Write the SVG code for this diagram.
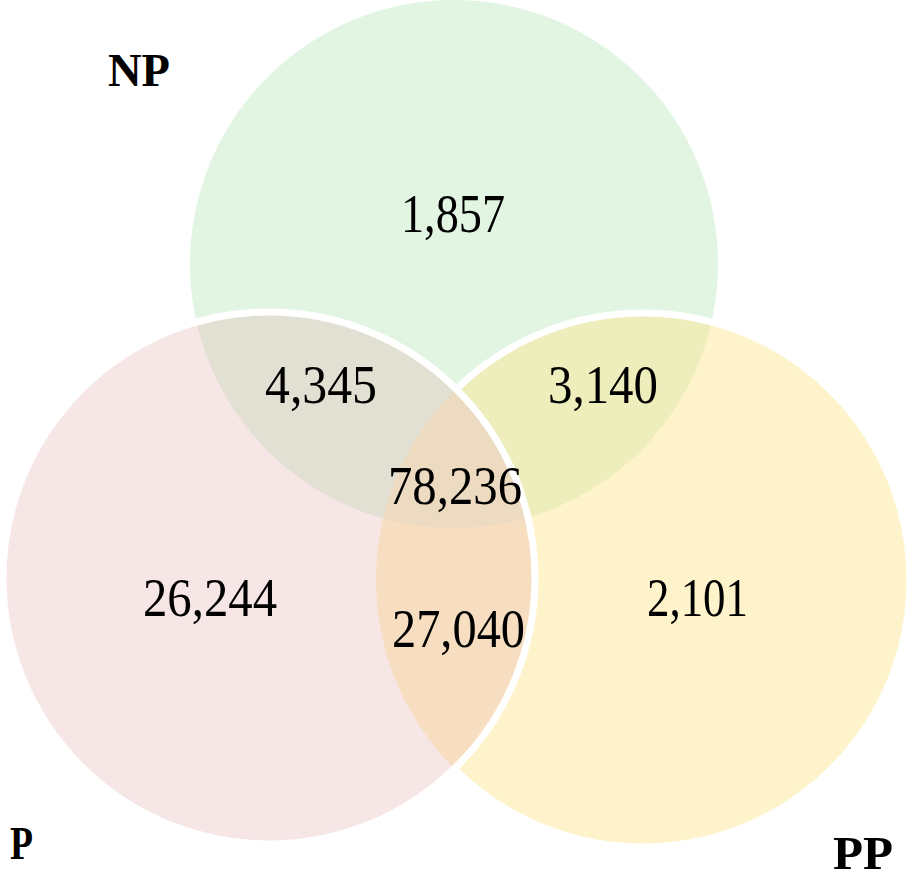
<svg xmlns="http://www.w3.org/2000/svg" width="913" height="878" viewBox="0 0 913 878">
  <style>
    .num { font-family: "Liberation Serif", "Times New Roman", serif; font-size: 55px; fill: #000; }
    .lab { font-family: "Liberation Serif", "Times New Roman", serif; font-size: 47px; font-weight: bold; fill: #000; }
    .edge { fill: none; stroke: #ffffff; stroke-width: 7; }
  </style>
  <defs>
    <clipPath id="cG"><circle cx="454" cy="264" r="264"/></clipPath>
    <clipPath id="cY"><circle cx="643" cy="580" r="267"/></clipPath>
  </defs>
  <rect width="913" height="878" fill="#ffffff"/>

  <g id="NP">
    <circle cx="454" cy="264" r="264" fill="#E1F5E2"/>
  </g>
  <g id="PP">
    <circle cx="643" cy="580" r="267" fill="#FFF3CB"/>
    <circle cx="643" cy="580" r="267" fill="#EEEDBC" clip-path="url(#cG)"/>
    <circle cx="643" cy="580" r="267" class="edge"/>
  </g>
  <g id="P">
    <circle cx="269" cy="578" r="266" fill="#F7E6E6"/>
    <circle cx="269" cy="578" r="266" fill="#E2DFD3" clip-path="url(#cG)"/>
    <circle cx="269" cy="578" r="266" fill="#F8DEC1" clip-path="url(#cY)"/>
    <g clip-path="url(#cG)">
      <circle cx="269" cy="578" r="266" fill="#ECDBC0" clip-path="url(#cY)"/>
    </g>
    <circle cx="269" cy="578" r="266" class="edge"/>
  </g>

  <g id="labels">
    <text class="lab" x="108" y="86" textLength="62" lengthAdjust="spacingAndGlyphs">NP</text>
    <text class="lab" x="10" y="859" textLength="23" lengthAdjust="spacingAndGlyphs">P</text>
    <text class="lab" x="833" y="869" textLength="60" lengthAdjust="spacingAndGlyphs">PP</text>
  </g>
  <g id="counts">
    <text class="num" x="401" y="232" textLength="104" lengthAdjust="spacingAndGlyphs">1,857</text>
    <text class="num" x="265" y="403" textLength="112" lengthAdjust="spacingAndGlyphs">4,345</text>
    <text class="num" x="548" y="403" textLength="110" lengthAdjust="spacingAndGlyphs">3,140</text>
    <text class="num" x="388" y="504" textLength="134" lengthAdjust="spacingAndGlyphs">78,236</text>
    <text class="num" x="143" y="616" textLength="134" lengthAdjust="spacingAndGlyphs">26,244</text>
    <text class="num" x="392" y="647" textLength="133" lengthAdjust="spacingAndGlyphs">27,040</text>
    <text class="num" x="647" y="616" textLength="101" lengthAdjust="spacingAndGlyphs">2,101</text>
  </g>
</svg>
